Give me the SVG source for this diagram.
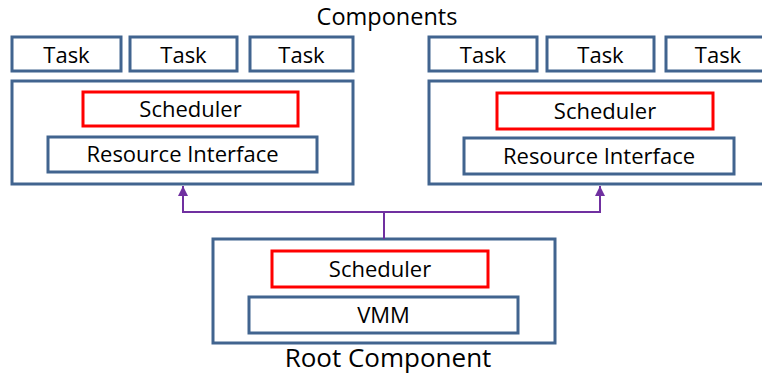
<svg xmlns="http://www.w3.org/2000/svg" width="762" height="376" viewBox="0 0 762 376">
<style>
.b{fill:#fff;stroke:#41648f;stroke-width:3}
.r{fill:#fff;stroke:#ff0000;stroke-width:3}
.t{font-family:"Open Sans","Noto Sans",sans-serif;font-size:22px;fill:#000;text-anchor:middle}
.h{font-family:"Open Sans","Noto Sans",sans-serif;font-size:26px;fill:#000;text-anchor:middle}
.c{fill:none;stroke:#7030a0;stroke-width:2}
</style>
<defs>
<marker id="a" viewBox="0 0 10 10" refX="10" refY="5" markerWidth="5" markerHeight="5" orient="auto" markerUnits="strokeWidth">
<path d="M0,0 L10,5 L0,10 z" fill="#7030a0"/>
</marker>
</defs>
<rect width="762" height="376" fill="#fff"/>
<text class="h" x="387" y="25" style="font-size:23.5px">Components</text>
<g id="left-component">
<rect class="b" x="12" y="81" width="341" height="103"/>
<g id="left-task1"><rect class="b" x="12" y="37" width="109" height="34"/><text class="t" x="66.5" y="63">Task</text></g>
<g id="left-task2"><rect class="b" x="130" y="37" width="107" height="34"/><text class="t" x="183.5" y="63">Task</text></g>
<g id="left-task3"><rect class="b" x="250" y="37" width="103" height="34"/><text class="t" x="301.5" y="63">Task</text></g>
<g id="left-scheduler"><rect class="r" x="83" y="92" width="215" height="34"/><text class="t" x="190.5" y="117">Scheduler</text></g>
<g id="left-resource"><rect class="b" x="48" y="137" width="269" height="35"/><text class="t" x="182.5" y="162">Resource Interface</text></g>
</g>
<g id="right-component">
<rect class="b" x="429" y="81" width="340" height="103"/>
<g id="right-task1"><rect class="b" x="429" y="37" width="108" height="34"/><text class="t" x="483" y="63">Task</text></g>
<g id="right-task2"><rect class="b" x="547" y="37" width="107" height="34"/><text class="t" x="600.5" y="63">Task</text></g>
<g id="right-task3"><rect class="b" x="666" y="37" width="105" height="34"/><text class="t" x="718" y="63">Task</text></g>
<g id="right-scheduler"><rect class="r" x="497" y="93" width="216" height="36"/><text class="t" x="605" y="119">Scheduler</text></g>
<g id="right-resource"><rect class="b" x="464" y="138" width="270" height="36"/><text class="t" x="599" y="164">Resource Interface</text></g>
</g>
<g id="root-component">
<rect class="b" x="213" y="239" width="342" height="104"/>
<g id="root-scheduler"><rect class="r" x="272" y="251" width="216" height="36"/><text class="t" x="380" y="277">Scheduler</text></g>
<g id="root-vmm"><rect class="b" x="249" y="297" width="269" height="36"/><text class="t" x="383.5" y="323">VMM</text></g>
<text class="h" x="388" y="367">Root Component</text>
</g>
<g id="connectors">
<path class="c" d="M384,239 V212 H183 V186" marker-end="url(#a)"/>
<path class="c" d="M384,212 H600 V186" marker-end="url(#a)"/>
</g>
</svg>
